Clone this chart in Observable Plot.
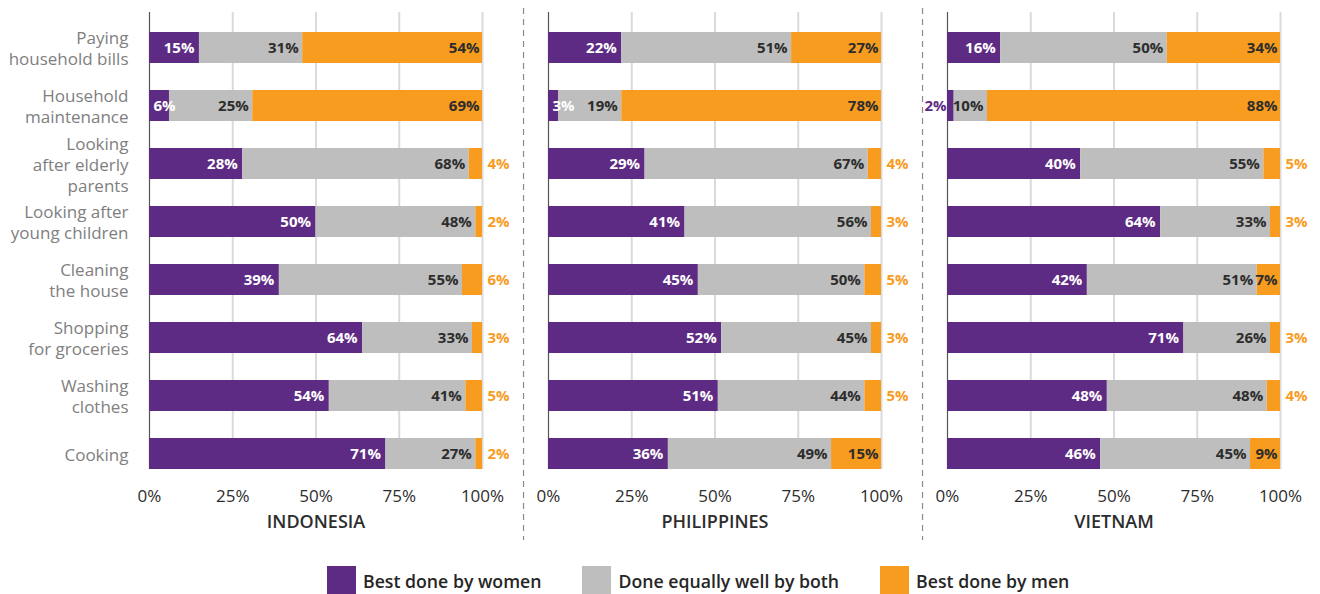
<!DOCTYPE html>
<html>
<head>
<meta charset="utf-8">
<script src="https://cdn.jsdelivr.net/npm/d3@7"></script>
<script src="https://cdn.jsdelivr.net/npm/@observablehq/plot@0.6"></script>
<style>
  html, body { margin: 0; padding: 0; background: #fff; }
  #legend { display: flex; align-items: center; margin: 14px 0 0 327px; font-family: "Open Sans", sans-serif; font-size: 17.7px; font-weight: 600; color: #262626; }
  #legend .item { display: flex; align-items: center; margin-right: 41px; }
  #legend .sw { width: 29px; height: 29px; margin-right: 7px; }
</style>
</head>
<body>
<div id="chart"></div>
<div id="legend"></div>
<script>
// ---- data ----
const countries = ["INDONESIA", "PHILIPPINES", "VIETNAM"];
const categories = ["Paying household bills", "Household maintenance", "Looking after elderly parents", "Looking after young children", "Cleaning the house", "Shopping for groceries", "Washing clothes", "Cooking"];
const categoryLabels = ["Paying\nhousehold bills", "Household\nmaintenance", "Looking\nafter elderly\nparents", "Looking after\nyoung children", "Cleaning\nthe house", "Shopping\nfor groceries", "Washing\nclothes", "Cooking"];
const segments = ["Best done by women", "Done equally well by both", "Best done by men"];
const segmentColors = ["#5e2b84", "#bdbebd", "#f89c1f"];
const xTicks = [0, 25, 50, 75, 100];

const indonesiaWomen = [15, 6, 28, 50, 39, 64, 54, 71];
const indonesiaBoth  = [31, 25, 68, 48, 55, 33, 41, 27];
const indonesiaMen   = [54, 69, 4, 2, 6, 3, 5, 2];
const philippinesWomen = [22, 3, 29, 41, 45, 52, 51, 36];
const philippinesBoth  = [51, 19, 67, 56, 50, 45, 44, 49];
const philippinesMen   = [27, 78, 4, 3, 5, 3, 5, 15];
const vietnamWomen = [16, 2, 40, 64, 42, 71, 48, 46];
const vietnamBoth  = [50, 10, 55, 33, 51, 26, 48, 45];
const vietnamMen   = [34, 88, 5, 3, 7, 3, 4, 9];

const seriesByCountry = {
  INDONESIA: [indonesiaWomen, indonesiaBoth, indonesiaMen],
  PHILIPPINES: [philippinesWomen, philippinesBoth, philippinesMen],
  VIETNAM: [vietnamWomen, vietnamBoth, vietnamMen]
};

const rows = [];
countries.forEach(country => {
  categories.forEach((category, i) => {
    let acc = 0;
    segments.forEach((segment, si) => {
      const value = seriesByCountry[country][si][i];
      rows.push({country, category, segment, si, value, x1: acc, x2: acc + value});
      acc += value;
    });
  });
});

const labelOf = d => d.value + "%";
const women = rows.filter(d => d.si === 0);
const both = rows.filter(d => d.si === 1);
const men = rows.filter(d => d.si === 2);
const common = {y: "category", fx: "country", text: labelOf, fontSize: 15, fontWeight: 700};

const chart = Plot.plot({
  width: 1320,
  height: 552,
  marginLeft: 148,
  marginRight: 40,
  marginTop: 12,
  marginBottom: 83,
  style: {fontFamily: "'Open Sans', sans-serif", background: "white", overflow: "visible"},
  fx: {domain: countries, padding: 0.166, label: null},
  x: {domain: [0, 100], axis: null},
  y: {domain: categories, paddingInner: 0.47, paddingOuter: 0.145, align: 1, axis: null, label: null},
  color: {domain: segments, range: segmentColors},
  marks: [
    Plot.gridX(xTicks.slice(1), {stroke: "#dadada", strokeWidth: 2, strokeOpacity: 1}),
    Plot.ruleX([0], {stroke: "#555", strokeWidth: 1.2}),
    Plot.barX(rows, {x1: "x1", x2: "x2", y: "category", fx: "country", fill: "segment"}),
    // women labels
    Plot.text(women.filter(d => d.value >= 10), {...common, x: "x2", textAnchor: "end", dx: -5, fill: "white"}),
    Plot.text(women.filter(d => d.value > 2 && d.value < 10), {...common, x: "x1", textAnchor: "start", dx: 4, fill: "white"}),
    Plot.text(women.filter(d => d.value <= 2), {...common, x: "x1", textAnchor: "end", dx: -1, fill: segmentColors[0]}),
    // both labels
    Plot.text(both, {...common, x: "x2", textAnchor: "end", dx: -4, fill: "#2d2d2d"}),
    // men labels
    Plot.text(men.filter(d => d.value > 6), {...common, x: "x2", textAnchor: "end", dx: -3, fill: "#2d2d2d"}),
    Plot.text(men.filter(d => d.value <= 6), {...common, x: "x2", textAnchor: "start", dx: 5, fill: segmentColors[2]}),
    // separators between country panels
    Plot.ruleX(countries.slice(1), {fx: d => d, x: -7.5, stroke: "#8a8a8a", strokeWidth: 1.2, strokeDasharray: "6,5", insetTop: -4, insetBottom: -71}),
    // axes
    Plot.axisY({tickSize: 0, tickPadding: 21, fontSize: 17, fill: "#808080", lineHeight: 1.25, label: null,
      tickFormat: c => categoryLabels[categories.indexOf(c)]}),
    Plot.axisX(xTicks, {tickSize: 0, tickPadding: 20, fontSize: 17, fill: "#2d2d2d", tickFormat: d => d + "%", label: null}),
    Plot.axisFx({anchor: "bottom", tickSize: 0, tickPadding: 46, fontSize: 18, fontWeight: 600, fill: "#2d2d2d", label: null})
  ]
});
document.getElementById("chart").appendChild(chart);

const legend = document.getElementById("legend");
segments.forEach((s, i) => {
  const item = document.createElement("div");
  item.className = "item";
  const sw = document.createElement("div");
  sw.className = "sw";
  sw.style.background = segmentColors[i];
  const t = document.createElement("span");
  t.textContent = s;
  item.appendChild(sw);
  item.appendChild(t);
  legend.appendChild(item);
});
</script>
</body>
</html>
